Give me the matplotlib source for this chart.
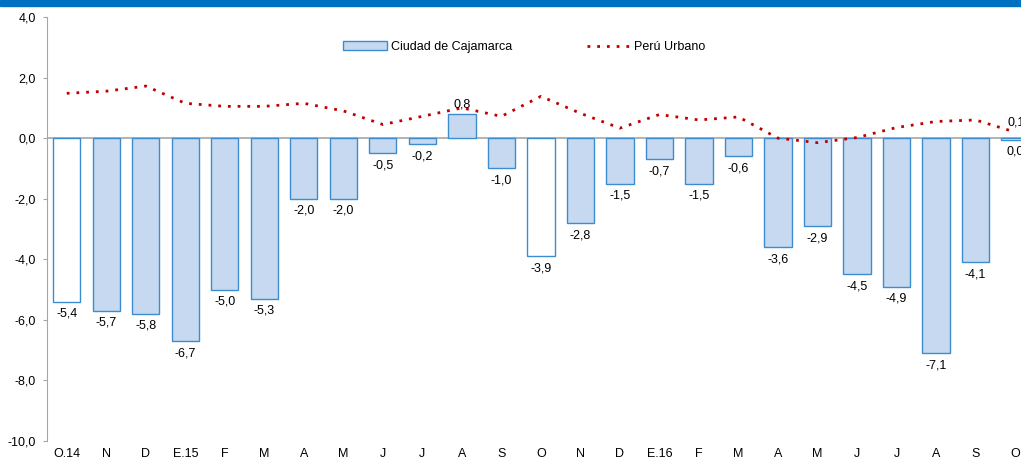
import matplotlib.pyplot as plt
import numpy as np
from matplotlib.lines import Line2D
from matplotlib.patches import Patch

plt.rcParams['font.family'] = ['Liberation Sans', 'DejaVu Sans']

months = ["O.14", "N", "D", "E.15", "F", "M", "A", "M", "J", "J", "A", "S",
          "O", "N", "D", "E.16", "F", "M", "A", "M", "J", "J", "A", "S", "O"]
cajamarca = [-5.4, -5.7, -5.8, -6.7, -5.0, -5.3, -2.0, -2.0, -0.5, -0.2, 0.8, -1.0,
             -3.9, -2.8, -1.5, -0.7, -1.5, -0.6, -3.6, -2.9, -4.5, -4.9, -7.1, -4.1, -0.05]
cajamarca_lbl = ["-5,4", "-5,7", "-5,8", "-6,7", "-5,0", "-5,3", "-2,0", "-2,0", "-0,5", "-0,2",
                 "0,8", "-1,0", "-3,9", "-2,8", "-1,5", "-0,7", "-1,5", "-0,6", "-3,6", "-2,9",
                 "-4,5", "-4,9", "-7,1", "-4,1", "0,0"]
peru_urbano = [1.48, 1.55, 1.72, 1.15, 1.05, 1.05, 1.15, 0.9, 0.45, 0.72, 1.0, 0.72,
               1.38, 0.82, 0.33, 0.78, 0.6, 0.7, 0.0, -0.15, 0.02, 0.35, 0.55, 0.6, 0.2]

x = np.arange(len(months))
fill = ["white" if m.startswith("O") else "#C6D9F1" for m in months]
fs = 9

fig = plt.figure(figsize=(10.21, 4.61), dpi=100)
ax = fig.add_axes([47/1021, 20/461, 1 - 47/1021, 424/461])

ax.bar(x, cajamarca, width=0.69, color=fill, edgecolor="#3C8DD0", linewidth=1.0, zorder=2)
ax.plot(x, peru_urbano, color="#C00000", linestyle=(0, (1, 2.5)), linewidth=2.0, zorder=3)

for xi, v, t in zip(x, cajamarca, cajamarca_lbl):
    if v >= 0.1:
        ax.text(xi, v + 0.12, t, ha="center", va="bottom", fontsize=fs)
    else:
        ax.text(xi, v - 0.2, t, ha="center", va="top", fontsize=fs)
ax.text(x[-1] - 0.2, peru_urbano[-1] + 0.12, "0,1", ha="left", va="bottom", fontsize=fs)

ax.axhline(0, color="#A6A6A6", linewidth=1.2, zorder=1)
ax.set_ylim(-10, 4)
ax.set_xlim(-0.5, 24.15)
ax.set_yticks(np.arange(-10, 5, 2))
ax.set_yticklabels([f"{v:.1f}".replace(".", ",") for v in np.arange(-10, 5, 2)], fontsize=fs)
ax.set_xticks(x)
ax.set_xticklabels(months, fontsize=fs)
ax.tick_params(axis="x", length=0, pad=5)
ax.tick_params(axis="y", length=3, color="#A6A6A6", pad=5)
for s in ["top", "right", "bottom"]:
    ax.spines[s].set_visible(False)
ax.spines["left"].set_color("#A6A6A6")

handles = [Patch(facecolor="#C6D9F1", edgecolor="#3C8DD0", label="Ciudad de Cajamarca"),
           Line2D([], [], color="#C00000", linestyle=(0, (1, 2.5)), linewidth=2.0, label="Perú Urbano")]
ax.legend(handles=handles, loc="upper center", bbox_to_anchor=(0.49, 0.97), ncol=2,
          frameon=False, fontsize=fs, columnspacing=6, handlelength=3.5, handletextpad=0.3)

fig.add_artist(plt.Rectangle((0, 1 - 6/461), 1, 6/461, transform=fig.transFigure,
                             color="#0070C0", zorder=5))

fig.savefig("out.png", dpi=100)
